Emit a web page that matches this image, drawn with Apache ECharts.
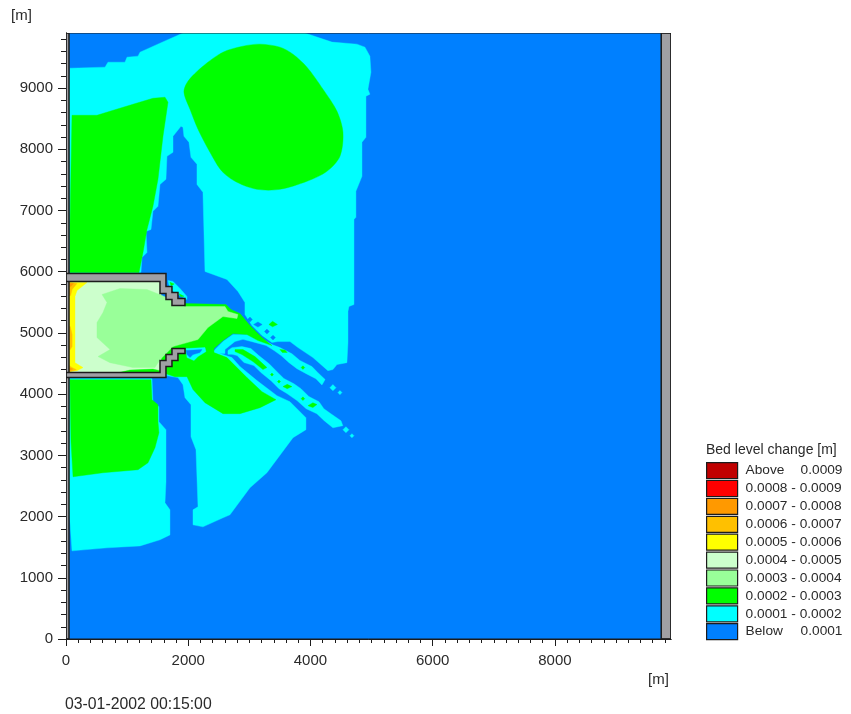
<!DOCTYPE html>
<html>
<head>
<meta charset="utf-8">
<style>html,body{margin:0;padding:0;background:#fff}#c{width:851px;height:714px}</style>
<script src="https://cdn.jsdelivr.net/npm/echarts@6/dist/echarts.min.js"></script>
</head>
<body>
<div id="c"></div>
<script>
// Domain extent and ticks, metres
const axisMax = 9900;
const xMajorTicks = [0,2000,4000,6000,8000];
const yMajorTicks = [0,1000,2000,3000,4000,5000,6000,7000,8000,9000];
const minorTicks = [0,200,400,600,800,1000,1200,1400,1600,1800,2000,2200,2400,2600,2800,3000,3200,3400,3600,3800,4000,
  4200,4400,4600,4800,5000,5200,5400,5600,5800,6000,6200,6400,6600,6800,7000,7200,7400,7600,7800,8000,
  8200,8400,8600,8800,9000,9200,9400,9600,9800];

// Legend classes of bed level change [m]
const classNames = ['Above 0.0009','0.0008 - 0.0009','0.0007 - 0.0008','0.0006 - 0.0007','0.0005 - 0.0006',
  '0.0004 - 0.0005','0.0003 - 0.0004','0.0002 - 0.0003','0.0001 - 0.0002','Below 0.0001'];
const classColors = ['#c00000','#ff0000','#ff9900','#ffc000','#ffff00','#ccffcc','#99ff99','#00ff00','#00ffff','#0080ff'];

// Contour polygons, [x, y] in metres
const belowBase = [[[0,0],[9900,0],[9900,9900],[0,9900]]];

const cyanMain = [[65,9325],[638,9342],[687,9423],[965,9423],[998,9505],[1178,9522],[1211,9587],[1538,9734],[1914,9900],
  [3910,9900],[4352,9751],[4761,9718],[4892,9669],[4973,9522],[4990,9260],[4941,8982],[4973,8900],[4908,8867],[4908,8196],
  [4843,8115],[4843,7558],[4744,7313],[4744,6888],[4712,6855],[4712,5464],[4630,5432],[4614,5350],[4614,4843],[4597,4515],
  [4434,4483],[4368,4401],[4286,4384],[4041,4597],[3796,4761],[3665,4859],[3468,4859],[3370,4843],[3207,4957],[3043,5121],
  [2928,5301],[2928,5497],[2814,5677],[2634,5873],[2274,6004],[2241,7297],[2143,7427],[2143,7755],[2045,7869],[2012,8115],
  [1930,8213],[1914,8360],[1881,8376],[1751,8213],[1751,7951],[1652,7886],[1636,7509],[1538,7427],[1505,7068],[1423,6986],
  [1391,6691],[1309,6659],[1325,6315],[1243,6233],[1227,5988],[65,5988],[50,8900]];
const cyanSouthWest = [[33,4254],[1407,4254],[1423,3877],[1521,3796],[1521,3550],[1636,3419],[1636,2569],[1620,2225],[1701,2110],
  [1701,1701],[1538,1620],[1211,1521],[671,1489],[98,1440],[50,2143]];
const cyanSouthEast = [[1636,4303],[1832,4270],[1914,4155],[1947,3943],[2045,3828],[2045,3305],[2127,3092],[2160,2160],[2078,2110],
  [2078,1865],[2241,1832],[2569,1980],[2683,2029],[3010,2470],[3288,2716],[3714,3288],[3926,3419],[3926,3616],[3665,3877],
  [3452,3975],[3125,4221],[2847,4450],[2716,4597],[2519,4663],[2438,4712],[2274,4744],[1963,4777],[1701,4483]];
const cyanStreakUpper = [[2438,4728],[2569,4859],[2732,4973],[3010,4973],[3174,4924],[3370,4810],[3501,4761],[3697,4660],[3828,4550],
  [4025,4450],[4123,4350],[4240,4240],[4188,4150],[4090,4250],[3930,4335],[3780,4415],[3650,4515],[3520,4630],[3405,4712],
  [3275,4795],[3092,4845],[2896,4895],[2765,4860],[2601,4728],[2601,4663],[2438,4663]];
const cyanStreakLower = [[2650,4712],[2716,4760],[2879,4777],[3025,4745],[3155,4630],[3320,4500],[3485,4335],[3565,4255],[3730,4170],
  [3845,4090],[3975,3960],[4140,3877],[4220,3762],[4335,3680],[4500,3565],[4530,3485],[4368,3450],[4225,3567],[4105,3680],
  [3930,3762],[3780,3895],[3615,4010],[3485,4090],[3355,4220],[3190,4352],[3075,4467],[2912,4516],[2800,4632],[2716,4650],[2650,4650]];
const cyanSpots = [[[4532,3419],[4581,3468],[4630,3419],[4581,3370]],[[4646,3321],[4679,3354],[4712,3321],[4679,3288]],
  [[4318,4106],[4368,4156],[4418,4106],[4368,4056]],[[4450,4025],[4483,4058],[4516,4025],[4483,3992]]];
const cyanStairs = [[1669,5857],[1751,5841],[1865,5726],[1980,5595],[1980,5546],[1865,5612],[1701,5710]];
const cyanRim = [[1963,4744],[2274,4761],[2290,4695],[2160,4614],[2094,4548],[1980,4597]];

const greenNorthWest = [[98,8556],[507,8556],[720,8622],[1096,8736],[1423,8834],[1620,8851],[1669,8769],[1587,8213],[1505,7509],
  [1423,7068],[1325,6691],[1260,6315],[1194,5988],[65,5988],[65,6740]];
const greenNorthEast = [[1930,8933],[1996,9113],[2241,9358],[2569,9587],[2896,9685],[3174,9718],[3501,9669],[3714,9554],[3943,9342],
  [4205,8982],[4434,8622],[4532,8278],[4483,7886],[4270,7640],[3943,7477],[3501,7346],[3125,7346],[2798,7460],[2552,7640],
  [2356,7951],[2160,8327],[2029,8654]];
const greenSouthWest = [[65,4237],[1391,4237],[1407,3910],[1505,3828],[1505,3550],[1521,3370],[1456,3125],[1342,2879],[1178,2765],
  [605,2716],[115,2650],[82,3223]];
const greenLobe = [[1947,5481],[2618,5464],[2699,5382],[2847,5317],[3010,5121],[3207,4924],[3370,4793],[3141,4875],[2961,4973],
  [2732,4990],[2569,4875],[2421,4744],[2421,4679],[2634,4597],[2732,4499],[2961,4270],[3207,4041],[3436,3910],[3174,3779],
  [2847,3681],[2569,3681],[2274,3861],[2078,4074],[1980,4286],[1783,4286],[1636,4335],[1538,4564],[1620,5219]];
const greenSpots = [
  [[2765,4728],[2896,4728],[3092,4614],[3288,4434],[3223,4401],[3059,4532],[2879,4646],[2765,4695]],
  [[3345,4319],[3370,4344],[3395,4319],[3370,4294]],
  [[3460,4205],[3485,4230],[3510,4205],[3485,4180]],
  [[3550,4123],[3620,4160],[3697,4123],[3620,4090]],
  [[3847,3926],[3877,3956],[3907,3926],[3877,3896]],
  [[3959,3812],[4040,3860],[4106,3830],[4040,3780]],
  [[3500,4730],[3583,4720],[3620,4680],[3540,4680]],
  [[3847,4434],[3877,4464],[3907,4434],[3877,4404]],
  [[3320,5137],[3380,5190],[3460,5137],[3380,5100]],
  [[1701,5830],[1770,5800],[1720,5770]],
  [[1850,5640],[1930,5600],[1880,5590]]];
const greenBasinEdge = [[867,4352],[1047,4393],[1423,4409],[1538,4384],[1538,4352]];

const blueSpots = [
  [[1963,4712],[2225,4728],[2192,4679],[2078,4646],[2029,4597],[1980,4646]],
  [[2970,5219],[3010,5260],[3050,5219],[3010,5180]],
  [[3070,5137],[3141,5180],[3210,5137],[3141,5095]],
  [[3248,5023],[3288,5063],[3328,5023],[3288,4983]],
  [[3347,4924],[3387,4964],[3427,4924],[3387,4884]]];

const lightGreenCore = [[589,5628],[883,5726],[1325,5710],[1571,5612],[1783,5513],[1947,5432],[2601,5432],[2650,5350],[2814,5301],
  [2798,5235],[2569,5268],[2323,5088],[2160,4892],[1751,4777],[1538,4564],[1456,4434],[1096,4434],[720,4515],[524,4614],
  [720,4728],[507,4924],[507,5170],[605,5333],[671,5497]];
const paleBasin = [[49,4352],[1555,4352],[1555,5841],[49,5841]];
const yellowEdge = [[50,5824],[344,5824],[180,5693],[147,5595],[147,4515],[278,4434],[180,4384],[50,4368]];
const amberSpots = [[[50,5824],[180,5808],[100,5710],[75,5610],[50,5610]],
  [[50,5104],[70,5104],[100,4973],[100,4777],[70,4728],[50,4728]],
  [[50,4470],[90,4440],[170,4400],[50,4368]]];
const orangeSpots = [[[60,5808],[120,5808],[80,5760],[60,5760]],[[60,4430],[110,4410],[60,4385]]];

// Land and structures
const landStrips = [[[0,0],[49,0],[49,9900],[0,9900]],[[9740,0],[9900,0],[9900,9900],[9740,9900]]];
const wallNorth = [[0,5971],[1636,5971],[1636,5759],[1734,5759],[1734,5661],[1832,5661],[1832,5562],[1947,5562],[1947,5448],
  [1734,5448],[1734,5546],[1636,5546],[1636,5644],[1538,5644],[1538,5841],[49,5841],[0,5841]];
const wallSouth = [[0,4352],[1538,4352],[1538,4548],[1636,4548],[1636,4646],[1734,4646],[1734,4744],[1947,4744],[1947,4663],
  [1832,4663],[1832,4548],[1734,4548],[1734,4450],[1636,4450],[1636,4270],[0,4270]];
const plotFrame = [[[0,0],[9900,0],[9900,9900],[0,9900]]];

const INK = '#1c1c1c';
const TEXT = '#2a2a2a';
const FONT = '"Liberation Sans", Arial, sans-serif';

function layer(name, color, polys, extra) {
  extra = extra || {};
  return {
    type: 'custom', name: name, silent: true, animation: false, clip: true,
    coordinateSystem: 'cartesian2d',
    itemStyle: { color: color },
    data: polys.map((_, i) => [i]),
    encode: { x: 0 },
    renderItem: function (params, api) {
      const pts = polys[params.dataIndex].map(p => api.coord(p));
      const shape = { points: pts };
      if (extra.smooth) shape.smooth = extra.smooth;
      return {
        type: 'polygon',
        shape: shape,
        style: extra.outline
          ? { fill: extra.fill || color, stroke: INK, lineWidth: extra.lw || 1.5 }
          : { fill: color, stroke: color, lineWidth: 0.4 }
      };
    }
  };
}

const C = classNames, K = classColors;
const series = [
  layer(C[9], K[9], belowBase),
  layer(C[0], K[0], []),
  layer(C[1], K[1], []),
  layer(C[8], K[8], [cyanMain, cyanSouthWest, cyanSouthEast, cyanStreakUpper, cyanStreakLower, cyanStairs].concat(cyanSpots)),
  layer(C[7], K[7], [greenNorthWest, greenSouthWest, greenLobe].concat(greenSpots)),
  layer(C[7], K[7], [greenNorthEast], { smooth: 0.3 }),
  layer(C[8], K[8], [cyanRim]),
  layer(C[9], K[9], blueSpots),
  layer(C[5], K[5], [paleBasin]),
  layer(C[6], K[6], [lightGreenCore]),
  layer(C[7], K[7], [greenBasinEdge]),
  layer(C[4], K[4], [yellowEdge]),
  layer(C[3], K[3], amberSpots),
  layer(C[2], K[2], orangeSpots),
  layer('land', '#a0a0a4', landStrips.concat([wallNorth, wallSouth]), { outline: true }),
  layer('frame', 'none', plotFrame, { outline: true, fill: 'none', lw: 1 })
];

function axisPair(major, majorLen, minorLen, margin) {
  const base = {
    type: 'value', min: 0, max: axisMax,
    axisLine: { show: true, onZero: false, lineStyle: { color: INK, width: 1 } },
    splitLine: { show: false }, minorTick: { show: false }, minorSplitLine: { show: false }
  };
  return [
    Object.assign({}, base, {
      axisTick: { show: true, length: minorLen, customValues: minorTicks, lineStyle: { color: INK, width: 1 } },
      axisLabel: { show: false }
    }),
    Object.assign({}, base, {
      axisTick: { show: true, length: majorLen, customValues: major, lineStyle: { color: INK, width: 1 } },
      axisLabel: { show: true, customValues: major, fontSize: 15, color: TEXT, fontFamily: FONT, margin: margin,
        formatter: function (v) { return String(v); } }
    })
  ];
}
const xAxes = axisPair(xMajorTicks, 7, 4, 14);
const yAxes = axisPair(yMajorTicks, 8, 5, 13);
xAxes.forEach(a => { a.position = 'bottom'; });
yAxes.forEach(a => { a.position = 'left'; });

const titleStyle = size => ({ fontSize: size, fontWeight: 'normal', color: TEXT, fontFamily: FONT });
const option = {
  animation: false,
  backgroundColor: '#fff',
  textStyle: { fontFamily: FONT },
  title: [
    { text: 'Bed level change [m]', left: 706, top: 443, textStyle: titleStyle(14), padding: 0 },
    { text: '[m]', left: 11, top: 8, textStyle: titleStyle(15), padding: 0 },
    { text: '[m]', left: 648, top: 672, textStyle: titleStyle(15), padding: 0 },
    { text: '03-01-2002 00:15:00', left: 65, top: 697, textStyle: titleStyle(15.8), padding: 0 }
  ],
  legend: {
    show: true, orient: 'vertical', left: 706, top: 462, padding: 0,
    itemWidth: 31, itemHeight: 16, itemGap: 0.7, selectedMode: false,
    data: classNames.map(n => ({ name: n, icon: 'rect' })),
    itemStyle: { borderColor: INK, borderWidth: 1.2 },
    textStyle: { fontSize: 13.7, lineHeight: 16, height: 16, color: TEXT, fontFamily: FONT, padding: [0, 0, 0, 3],
      rich: { l: { fontSize: 13.7, lineHeight: 16, color: TEXT, fontFamily: FONT, width: 55 },
              v: { fontSize: 13.7, lineHeight: 16, color: TEXT, fontFamily: FONT } } },
    formatter: function (name) {
      const m = name.match(/^(Above|Below) (.*)$/);
      return m ? '{l|' + m[1] + '}{v|' + m[2] + '}' : name;
    }
  },
  grid: { left: 66, top: 33, width: 605, height: 606, containLabel: false },
  xAxis: xAxes,
  yAxis: yAxes,
  series: series
};
const chart = echarts.init(document.getElementById('c'), null, { renderer: 'canvas' });
chart.setOption(option);
</script>
</body>
</html>
